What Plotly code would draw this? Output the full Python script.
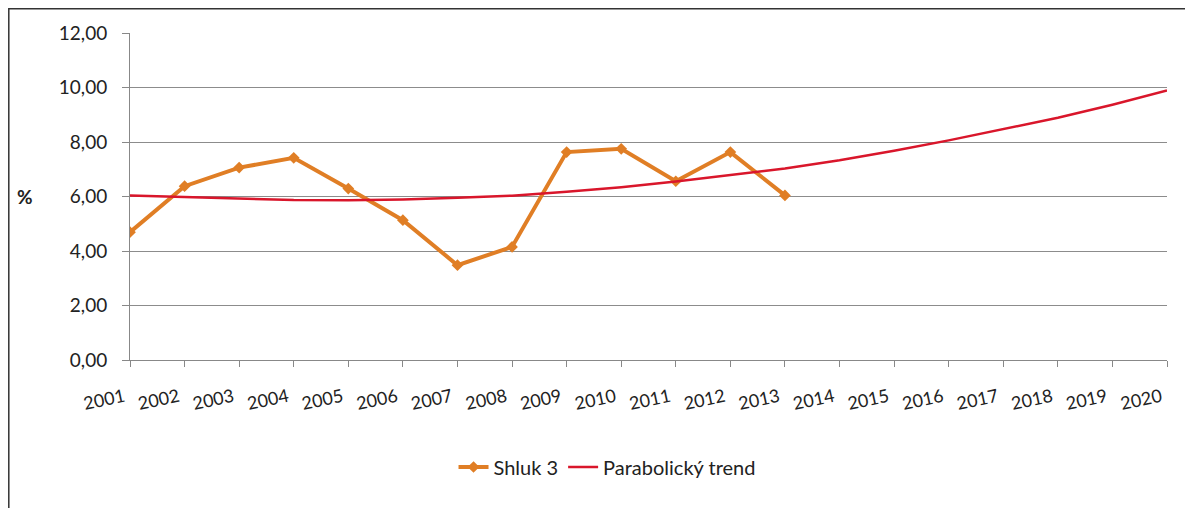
import plotly.graph_objects as go

years = [str(y) for y in range(2001, 2021)]
shluk3_years = years[:13]
shluk3_values = [4.69, 6.38, 7.06, 7.42, 6.29, 5.13, 3.48, 4.15, 7.63, 7.75, 6.56, 7.63, 6.04]
trend_values = [6.04, 5.98, 5.92, 5.87, 5.86, 5.89, 5.95, 6.03, 6.17, 6.34, 6.55, 6.78, 7.03,
                7.33, 7.68, 8.06, 8.47, 8.89, 9.37, 9.89]
y_ticks = [0, 2, 4, 6, 8, 10, 12]

FONT = "Lato, Carlito, 'Open Sans', sans-serif"

W, H = 1185, 500
L, R, T, B = 122, 26, 25, 148
PW, PH = W - L - R, H - T - B


def px_x(fx):
    return (fx - L) / PW


def px_y(fy):
    return (H - B - fy) / PH


fig = go.Figure()
fig.add_trace(go.Scatter(
    x=shluk3_years, y=shluk3_values, name="Shluk 3", mode="lines+markers",
    line=dict(color="#E07E25", width=4),
    marker=dict(symbol="diamond", size=9, color="#E07E25"),
))
fig.add_trace(go.Scatter(
    x=years, y=trend_values, name="Parabolický trend", mode="lines",
    line=dict(color="#D9162B", width=2.5),
))

fig.update_layout(
    width=W, height=H,
    margin=dict(l=L, r=R, t=T, b=B),
    paper_bgcolor="white", plot_bgcolor="white",
    separators=", ",
    font=dict(family=FONT, size=18, color="#222"),
    showlegend=True,
    legend=dict(orientation="h", x=0.46, xanchor="center", y=px_y(459), yanchor="middle",
                font=dict(size=20, family=FONT)),
    xaxis=dict(
        type="category", categoryorder="array", categoryarray=years,
        range=[0, 19], tickangle=-12,
        showgrid=False, showline=True, linecolor="#888", linewidth=1,
        ticks="outside", ticklen=6, tickcolor="#888",
        tickfont=dict(size=18, family=FONT), ticklabelstandoff=13, ticklabelshift=-6,
    ),
    yaxis=dict(
        range=[0, 12], tickvals=y_ticks, tickformat=".2f",
        showgrid=True, gridcolor="#8c8c8c", gridwidth=1,
        showline=True, linecolor="#888", linewidth=1,
        ticks="outside", ticklen=7, tickcolor="#888",
        tickfont=dict(size=19, family=FONT), zeroline=False, ticklabelstandoff=11,
    ),
    annotations=[dict(text="<b>%</b>", xref="paper", yref="paper", x=px_x(17), y=px_y(189),
                      xanchor="center", yanchor="middle", showarrow=False,
                      font=dict(size=19, family=FONT, color="#222"))],
    shapes=[dict(type="rect", xref="paper", yref="paper",
                 x0=px_x(0.8), x1=px_x(1182),
                 y0=px_y(530), y1=px_y(0.8),
                 line=dict(color="#333", width=1.5), fillcolor="rgba(0,0,0,0)",
                 layer="below")],
)

fig.write_html("out.html")
